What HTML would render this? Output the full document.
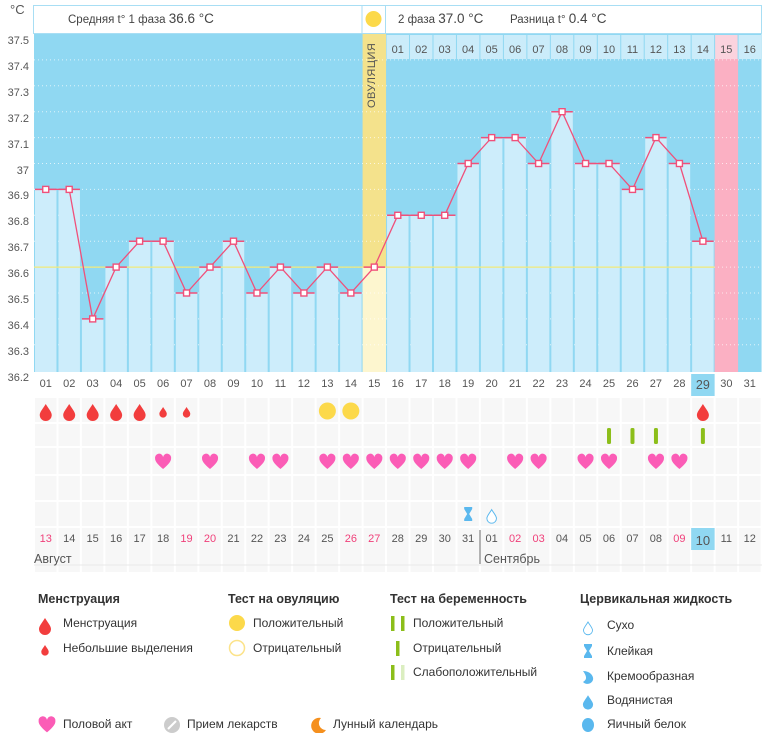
<!DOCTYPE html>
<html><head><meta charset="utf-8"><style>
body{margin:0;width:770px;height:733px;background:#fff;font-family:"Liberation Sans","DejaVu Sans",sans-serif;position:relative;overflow:hidden;color:#444}
.row{position:absolute;left:34px;display:flex;font-size:11px;color:#555}
.row span{width:23.47px;text-align:center;flex:none}
.lg{position:absolute;font-size:12px;color:#333;white-space:nowrap}
.h{font-weight:bold;font-size:12.5px;color:#333}
.r{color:#f0407a}
</style></head><body>
<svg id="s" width="770" height="733" style="position:absolute;left:0;top:0"></svg>
<div style="position:absolute;left:10px;top:2px;font-size:13px;color:#555">°C</div>
<div id="yl" style="position:absolute;left:0;top:0;font-size:11px;color:#555"></div>
<div style="position:absolute;left:68px;top:11px;font-size:11.5px;color:#444">Средняя t° 1 фаза <span style="font-size:13.5px">36.6 °C</span></div>
<div style="position:absolute;left:398px;top:11px;font-size:11.5px;color:#444">2 фаза <span style="font-size:13.5px">37.0 °C</span></div>
<div style="position:absolute;left:510px;top:11px;font-size:11.5px;color:#444">Разница t° <span style="font-size:13.5px">0.4 °C</span></div>
<div style="position:absolute;left:366px;top:108px;transform:rotate(-90deg);transform-origin:0 0;font-size:11px;color:#555;letter-spacing:0.5px">ОВУЛЯЦИЯ</div>
<div class="row" style="top:44px;left:386px"><span>01</span><span>02</span><span>03</span><span>04</span><span>05</span><span>06</span><span>07</span><span>08</span><span>09</span><span>10</span><span>11</span><span>12</span><span>13</span><span>14</span><span>15</span><span>16</span></div>
<div class="row" style="top:378px"><span>01</span><span>02</span><span>03</span><span>04</span><span>05</span><span>06</span><span>07</span><span>08</span><span>09</span><span>10</span><span>11</span><span>12</span><span>13</span><span>14</span><span>15</span><span>16</span><span>17</span><span>18</span><span>19</span><span>20</span><span>21</span><span>22</span><span>23</span><span>24</span><span>25</span><span>26</span><span>27</span><span>28</span><span style="font-size:12.5px">29</span><span>30</span><span>31</span></div>
<div class="row" style="top:533px"><span class="r">13</span><span>14</span><span>15</span><span>16</span><span>17</span><span>18</span><span class="r">19</span><span class="r">20</span><span>21</span><span>22</span><span>23</span><span>24</span><span>25</span><span class="r">26</span><span class="r">27</span><span>28</span><span>29</span><span>30</span><span>31</span><span>01</span><span class="r">02</span><span class="r">03</span><span>04</span><span>05</span><span>06</span><span>07</span><span>08</span><span class="r">09</span><span style="font-size:13px">10</span><span>11</span><span>12</span></div>
<div style="position:absolute;left:34px;top:552px;font-size:12.5px;color:#555">Август</div>
<div style="position:absolute;left:484px;top:552px;font-size:12.5px;color:#555">Сентябрь</div>
<div class="lg h" style="left:38px;top:592px">Менструация</div>
<div class="lg" style="left:63px;top:616px">Менструация</div>
<div class="lg" style="left:63px;top:641px">Небольшие выделения</div>
<div class="lg h" style="left:228px;top:592px">Тест на овуляцию</div>
<div class="lg" style="left:253px;top:616px">Положительный</div>
<div class="lg" style="left:253px;top:641px">Отрицательный</div>
<div class="lg h" style="left:390px;top:592px">Тест на беременность</div>
<div class="lg" style="left:413px;top:616px">Положительный</div>
<div class="lg" style="left:413px;top:641px">Отрицательный</div>
<div class="lg" style="left:413px;top:665px">Слабоположительный</div>
<div class="lg h" style="left:580px;top:592px">Цервикальная жидкость</div>
<div class="lg" style="left:607px;top:618px">Сухо</div>
<div class="lg" style="left:607px;top:644px">Клейкая</div>
<div class="lg" style="left:607px;top:669px">Кремообразная</div>
<div class="lg" style="left:607px;top:693px">Водянистая</div>
<div class="lg" style="left:607px;top:717px">Яичный белок</div>
<div class="lg" style="left:63px;top:717px">Половой акт</div>
<div class="lg" style="left:187px;top:717px">Прием лекарств</div>
<div class="lg" style="left:333px;top:717px">Лунный календарь</div>
<div style="position:absolute;left:5px;top:29px;font-size:11px;color:#555;line-height:25.9px;text-align:right;width:24px">37.5<br>37.4<br>37.3<br>37.2<br>37.1<br>37<br>36.9<br>36.8<br>36.7<br>36.6<br>36.5<br>36.4<br>36.3<br>36.2</div>
<script>
var s=document.getElementById('s'),NS='http://www.w3.org/2000/svg';
function e(t,a){var n=document.createElementNS(NS,t);for(var k in a)n.setAttribute(k,a[k]);s.appendChild(n);return n}
var W=23.47,L=34;function cx(i){return L+(i-0.5)*W}function X(i){return L+(i-1)*W}
function Y(v){return 34+(37.5-v)*259}
var V=[36.9,36.9,36.4,36.6,36.7,36.7,36.5,36.6,36.7,36.5,36.6,36.5,36.6,36.5,36.6,36.8,36.8,36.8,37.0,37.1,37.1,37.0,37.2,37.0,37.0,36.9,37.1,37.0,36.7];
var B=372;
// header box
e('rect',{x:33.5,y:5.5,width:728,height:28,fill:'#fff',stroke:'#a8def4'});
e('line',{x1:362,y1:5,x2:362,y2:34,stroke:'#a8def4'});e('line',{x1:385.5,y1:5,x2:385.5,y2:34,stroke:'#a8def4'});
e('circle',{cx:373.5,cy:19,r:8,fill:'#fcd94a'});
// plot bg
e('rect',{x:L,y:34,width:31*W,height:B-34,fill:'#90d8f2'});
// phase2 header cells
for(var i=16;i<=31;i++)e('rect',{x:X(i)+0.5,y:35,width:W-1,height:24,fill:i==30?'#fbd3de':'#cbecfa'});
e('rect',{x:X(30),y:59,width:W,height:B-59,fill:'#fbb0c3'});
// ovulation col
e('rect',{x:X(15),y:34,width:W,height:Y(36.6)-34,fill:'#f4e28c'});
e('rect',{x:X(15),y:Y(36.6),width:W,height:B-Y(36.6),fill:'#fdf6cf'});
// grid
for(var k=1;k<13;k++){var yy=34+k*25.9;e('line',{x1:L,y1:yy,x2:L+31*W,y2:yy,stroke:'#fff','stroke-opacity':0.7,'stroke-dasharray':'1,3'})}
// bars
for(var i=1;i<=29;i++){if(i==15)continue;e('rect',{x:X(i)+1,y:Y(V[i-1]),width:W-2,height:B-Y(V[i-1]),fill:'#cdedfb'})}
// cover line
e('line',{x1:L,y1:Y(36.6),x2:X(30),y2:Y(36.6),stroke:'#f2ea7a','stroke-width':1.2});
// polyline
var p='';for(var i=1;i<=29;i++)p+=cx(i)+','+Y(V[i-1])+' ';
e('polyline',{points:p,fill:'none',stroke:'#f0507a','stroke-width':1.3});
for(var i=1;i<=29;i++){var y=Y(V[i-1]);e('line',{x1:X(i)+1,y1:y,x2:X(i)+W-1,y2:y,stroke:'#f0507a','stroke-width':1.5});
e('rect',{x:cx(i)-3,y:y-3,width:6,height:6,fill:'#fff',stroke:'#f0507a','stroke-width':1.4})}
// lower grid cells
var rows=[[398,24],[424,22],[448,26],[476,24],[502,24],[528,44]];
rows.forEach(function(r){for(var i=1;i<=31;i++)e('rect',{x:X(i)+1,y:r[0],width:W-2,height:r[1],fill:'#f7f7f7'})});
e('rect',{x:X(29),y:374,width:W,height:22,fill:'#90d8f2'});
e('rect',{x:X(29),y:528,width:W,height:22,fill:'#90d8f2'});
e('line',{x1:480,y1:530,x2:480,y2:564,stroke:'#666'});
e('line',{x1:34,y1:565,x2:762,y2:565,stroke:'#e8e8e8'});
function drop(x,y,sc,fill,st){e('path',{d:'M0,-8 C3,-3 6,0 6,3 A6,6 0 0 1 -6,3 C-6,0 -3,-3 0,-8Z',transform:'translate('+x+','+y+') scale('+sc+')',fill:fill||'#f23d3d',stroke:st||'none','stroke-width':st?1.2:0})}
function heart(x,y,sc){e('path',{d:'M0,7 C-6,2 -8,-1 -8,-3.5 A4,4 0 0 1 0,-5 A4,4 0 0 1 8,-3.5 C8,-1 6,2 0,7Z',transform:'translate('+x+','+y+') scale('+(sc||1)+')',fill:'#fb5cb6'})}
[1,2,3,4,5,29].forEach(function(i){drop(cx(i),412,1)});[6,7].forEach(function(i){drop(cx(i),412,0.62)});
[13,14].forEach(function(i){e('circle',{cx:cx(i),cy:411,r:8.5,fill:'#fcd94a'})});
[25,26,27,29].forEach(function(i){e('rect',{x:cx(i)-2,y:428,width:4,height:16,rx:1.5,fill:'#8cbe1a'})});
[6,8,10,11,13,14,15,16,17,18,19,21,22,24,25,27,28].forEach(function(i){heart(cx(i),462)});
e('path',{d:'M-4,-7 H4 V-5 L1,0 L4,5 V7 H-4 V5 L-1,0 L-4,-5Z',transform:'translate('+cx(19)+',514)',fill:'#5ab8ee'});
drop(cx(20),516,0.8,'#fff','#5ab8ee');
// legend icons
drop(45,626,1);drop(45,650,0.62);
e('circle',{cx:237,cy:623,r:8,fill:'#fcd94a'});e('circle',{cx:237,cy:648,r:7.5,fill:'#fff',stroke:'#fce38a','stroke-width':1.5});
e('rect',{x:391,y:616,width:3.5,height:15,fill:'#8cbe1a'});e('rect',{x:401,y:616,width:3.5,height:15,fill:'#8cbe1a'});
e('rect',{x:396,y:641,width:3.5,height:15,fill:'#8cbe1a'});
e('rect',{x:391,y:665,width:3.5,height:15,fill:'#8cbe1a'});e('rect',{x:401,y:665,width:3.5,height:15,fill:'#dbeec0'});
drop(588,628,0.75,'#fff','#5ab8ee');
e('path',{d:'M-4,-7 H4 V-5 L1,0 L4,5 V7 H-4 V5 L-1,0 L-4,-5Z',transform:'translate(588,651)',fill:'#5ab8ee'});
e('path',{d:'M-5,-6 C3,-6 6,0 5,3 A6,6 0 0 1 -5,5 C-2,3 0,1 -5,-6Z',transform:'translate(588,677)',fill:'#5ab8ee'});
drop(588,702,0.85,'#5ab8ee');
e('ellipse',{cx:588,cy:725,rx:6,ry:7,fill:'#5ab8ee'});
heart(47,725,1.05);
e('circle',{cx:172,cy:725,r:8,fill:'#ccc'});e('line',{x1:168,y1:729,x2:176,y2:721,stroke:'#fff','stroke-width':2});
e('path',{d:'M4,-8 A8,8 0 1 0 9,4 A7,7 0 0 1 4,-8Z',transform:'translate(317,726)',fill:'#f5901e'});
</script>
</body></html>
